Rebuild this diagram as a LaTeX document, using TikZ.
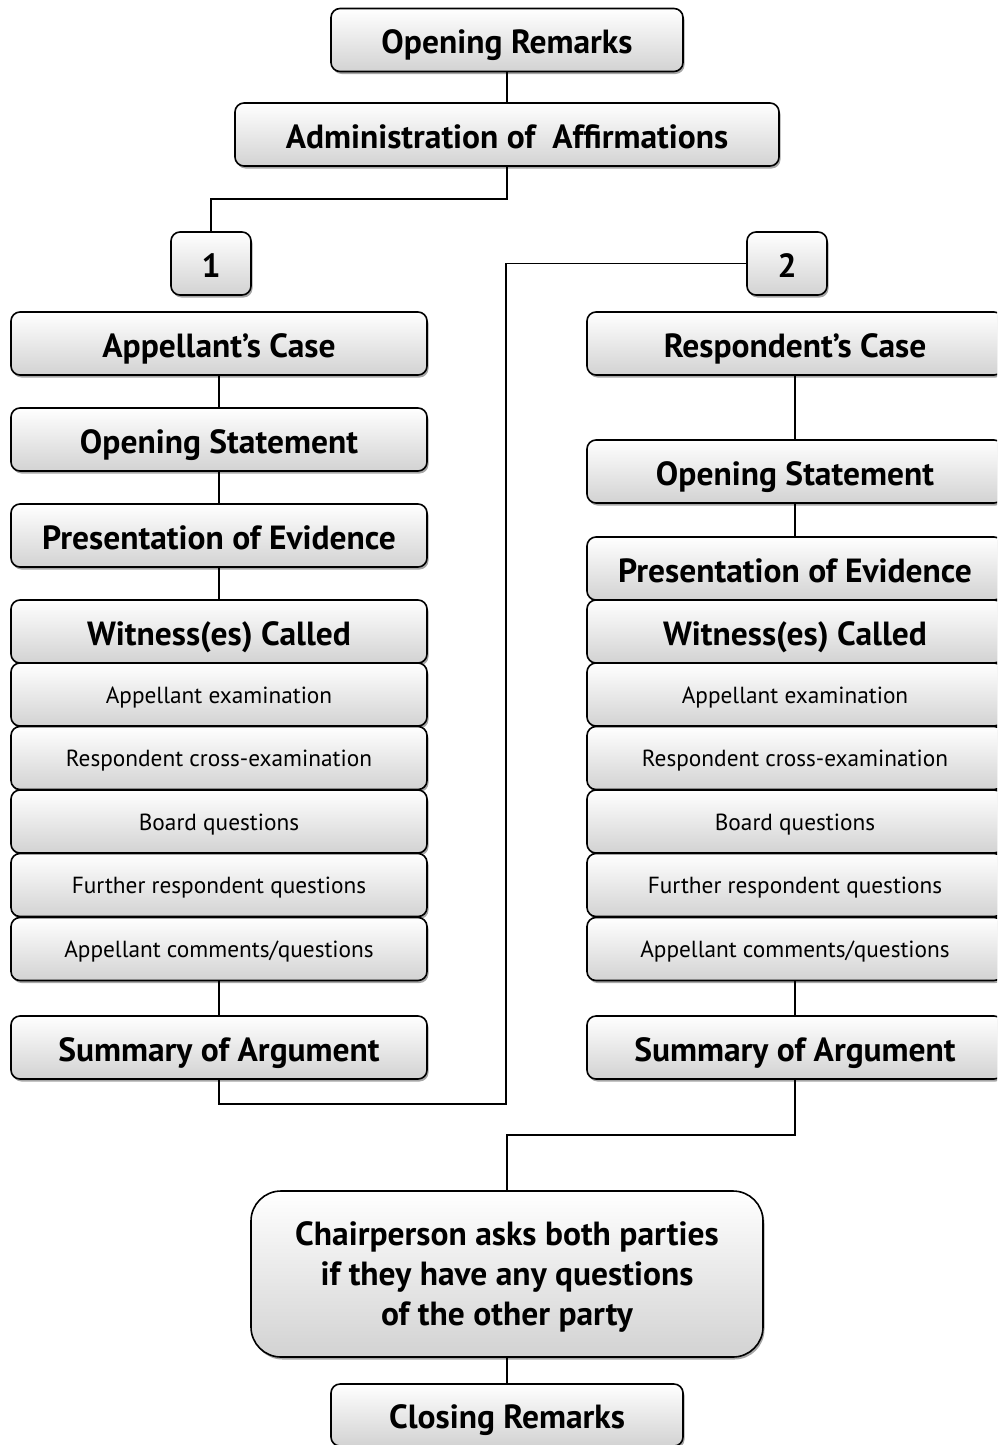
\documentclass[tikz,border=0pt]{standalone}
\usepackage{fontspec}
\setmainfont{PT Sans}
\usetikzlibrary{shadows}
\pgfdeclarelayer{bg}
\pgfsetlayers{bg,main}
\newcommand{\bigf}{\fontsize{33.5}{40}\selectfont\bfseries}
\newcommand{\smallf}{\fontsize{23.3}{28}\selectfont}
\tikzset{
  box/.style={draw=black, line width=1.6pt, rounded corners=9pt,
    top color=white, bottom color=gray!35, inner sep=0pt, outer sep=0pt,
    minimum height=63pt, align=center,
    drop shadow={shadow xshift=1.5pt, shadow yshift=-2.5pt, opacity=0.35, fill=black}},
  hbox/.style={box, font=\bigf, text height=27.5pt, text depth=0pt},
  sbox/.style={box, font=\smallf, text height=17pt, text depth=0pt},
  chairbox/.style={box, font=\bigf, text depth=0pt, rounded corners=30pt},
  col/.style={minimum width=416pt},
  conn/.style={draw=black, line width=1.6pt}
}
\begin{document}
\begin{tikzpicture}[x=1pt,y=-1pt]
\useasboundingbox (0,0) rectangle (997,1445);
\clip (0,0) rectangle (997,1445);
% top
\node[hbox, minimum width=352pt] (om) at (507,40) {Opening Remarks};
\node[hbox, minimum width=544pt] (adm) at (507,134.5) {Administration of\ \ Affirmations};
\node[hbox, minimum width=80pt] (b1) at (211,263.5) {1};
\node[hbox, minimum width=80pt] (b2) at (787,263.5) {2};
% left column
\node[hbox, col] (lcase) at (219,343.5) {Appellant’s Case};
\node[hbox, col] (lopen) at (219,439.5) {Opening Statement};
\node[hbox, col] (lpres) at (219,535.5) {Presentation of Evidence};
\node[hbox, col] (lwit) at (219,631.5) {Witness(es) Called};
\node[sbox, col] (lexam) at (219,694.5) {Appellant examination};
\node[sbox, col] (lcross) at (219,758) {Respondent cross-examination};
\node[sbox, col] (lboard) at (219,821.5) {Board questions};
\node[sbox, col] (lfurther) at (219,885) {Further respondent questions};
\node[sbox, col] (lcomm) at (219,949) {Appellant comments/questions};
\node[hbox, col] (lsum) at (219,1047.5) {Summary of Argument};
% right column
\node[hbox, col] (rcase) at (795,343.5) {Respondent’s Case};
\node[hbox, col] (ropen) at (795,471.5) {Opening Statement};
\node[hbox, col] (rpres) at (795,568.5) {Presentation of Evidence};
\node[hbox, col] (rwit) at (795,631.5) {Witness(es) Called};
\node[sbox, col] (rexam) at (795,694.5) {Appellant examination};
\node[sbox, col] (rcross) at (795,758) {Respondent cross-examination};
\node[sbox, col] (rboard) at (795,821.5) {Board questions};
\node[sbox, col] (rfurther) at (795,885) {Further respondent questions};
\node[sbox, col] (rcomm) at (795,949) {Appellant comments/questions};
\node[hbox, col] (rsum) at (795,1047.5) {Summary of Argument};
% bottom
\node[chairbox, minimum width=512pt, minimum height=166pt] (chair) at (507,1274)
  {Chairperson asks both parties\\if they have any questions\\of the other party};
\node[hbox, minimum width=352pt, minimum height=62pt] (close) at (507,1415) {Closing Remarks};
% connectors
\coordinate (j0) at (211,199);
\coordinate (j1) at (506,1104);
\coordinate (j2) at (507,1135);
\begin{pgfonlayer}{bg}
\draw[conn] (om) -- (adm);
\draw[conn] (adm.south) |- (j0) -- (b1.north);
\draw[conn] (lcase) -- (lopen);
\draw[conn] (lopen) -- (lpres);
\draw[conn] (lpres) -- (lwit);
\draw[conn] (lcomm) -- (lsum);
\draw[conn] (rcase) -- (ropen);
\draw[conn] (ropen) -- (rpres);
\draw[conn] (rpres) -- (rwit);
\draw[conn] (rcomm) -- (rsum);
\draw[conn] (lsum.south) |- (j1) |- (b2.west);
\draw[conn] (rsum.south) |- (j2) -- (chair.north);
\draw[conn] (chair) -- (close);
\end{pgfonlayer}
\end{tikzpicture}
\end{document}
